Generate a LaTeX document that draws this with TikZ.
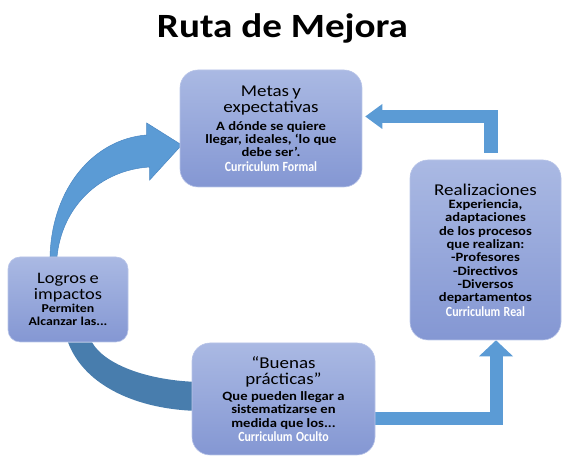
\documentclass[tikz,border=0pt]{standalone}
\usepackage{fontspec}
\setmainfont{Carlito}[FakeStretch=1.15]
\newfontfamily\tagfamily{Carlito}[FakeStretch=0.85]
\usetikzlibrary{arrows.meta,backgrounds}

\definecolor{boxtop}{HTML}{AAB9E3}
\definecolor{boxbot}{HTML}{8497D3}
\definecolor{boxline}{HTML}{B9C5E8}
\definecolor{flowblue}{HTML}{5B9BD5}
\definecolor{flowedge}{HTML}{4A86C2}
\definecolor{bandblue}{HTML}{487DAD}

\newcommand\headfont{\fontsize{16.5}{16.5}\selectfont}
\newcommand\bodyfont{\bfseries\fontsize{12.7}{13.3}\selectfont}
\newcommand\tagfont{\tagfamily\bfseries\color{white}\fontsize{14}{14.5}\selectfont}

\tikzset{
  stage/.style={rounded corners=18pt, top color=boxtop, bottom color=boxbot,
    draw=boxline, line width=0.6pt, align=center, inner sep=2pt},
  flow/.style={draw=flowblue, line width=13pt, line join=miter,
    -{Triangle[width=25pt,length=17pt,line width=0pt]}},
}

\begin{document}
\begin{tikzpicture}[x=1pt,y=1pt]
  \useasboundingbox (0,0) rectangle (563,457);

  \node[font=\bfseries\fontsize{34}{34}\selectfont, anchor=base] (title) at (282.5,419) {Ruta de Mejora};

  \node[stage, minimum width=182pt, minimum height=117pt, text width=172pt] (metas) at (271,328.5)
    {{\headfont Metas y\\expectativas\par}\vspace{4.4pt}%
     {\bodyfont A dónde se quiere\\llegar, ideales, ‘lo que\\debe ser’.\par}%
     {\tagfont Curriculum Formal\par}};
  \node[stage, minimum width=151pt, minimum height=180pt, text width=141pt] (real) at (485.5,207)
    {{\headfont Realizaciones\par}%
     {\bodyfont Experiencia,\\adaptaciones\\de los procesos\\que realizan:\\-Profesores\\-Directivos\\-Diversos\\departamentos\par}%
     {\tagfont Curriculum Real\par}};
  \node[stage, rounded corners=12pt, minimum width=120pt, minimum height=85pt, text width=112pt] (logros) at (68,157.5)
    {{\fontsize{16}{16.5}\selectfont Logros e\\impactos\par}%
     {\bfseries\fontsize{12}{13}\selectfont Permiten\\Alcanzar las...\par}};
  \node[stage, minimum width=183pt, minimum height=112pt, text width=173pt] (buenas) at (283.5,58)
    {{\headfont “Buenas\\prácticas”\par}\vspace{2.5pt}%
     {\bodyfont Que pueden llegar a\\sistematizarse en\\medida que los...\par}%
     {\tagfont Curriculum Oculto\par}};

  \begin{scope}[on background layer]
    \draw[flow, line width=13.5pt, shorten >=3pt] ([shift={(5.5,7)}]real.north) |- ([yshift=12]metas.east);
    \draw[flow, -{Triangle[width=34pt,length=16pt,line width=0pt]}] ([yshift=-19.5]buenas.east) -| ([xshift=10.5]real.south);
    \filldraw[fill=flowblue, draw=flowedge, line width=0.5pt]
      ([xshift=-18]logros.north)
      .. controls ([shift={(-16,70)}]logros.north) and ([shift={(-85,-10.5)}]metas.west)
      .. ([shift={(-33,-6.5)}]metas.west)
      -- ([shift={(-33,5.5)}]metas.west)
      -- ([shift={(2,-16.5)}]metas.west)
      -- ([shift={(-30,-51.5)}]metas.west)
      -- ([shift={(-30,-38.5)}]metas.west)
      .. controls ([shift={(-80,-41.5)}]metas.west) and ([shift={(-6,50)}]logros.north)
      .. ([xshift=-11]logros.north) -- cycle;
    \fill[bandblue] (logros.south)
      .. controls ([shift={(17,-45)}]logros.south) and ([shift={(-52,-11)}]buenas.west)
      .. ([shift={(8,-12)}]buenas.west)
      -- ([shift={(8,17)}]buenas.west)
      .. controls ([shift={(-42,18)}]buenas.west) and ([shift={(37,-23)}]logros.south)
      .. ([xshift=24]logros.south) -- cycle;
  \end{scope}
\end{tikzpicture}
\end{document}
